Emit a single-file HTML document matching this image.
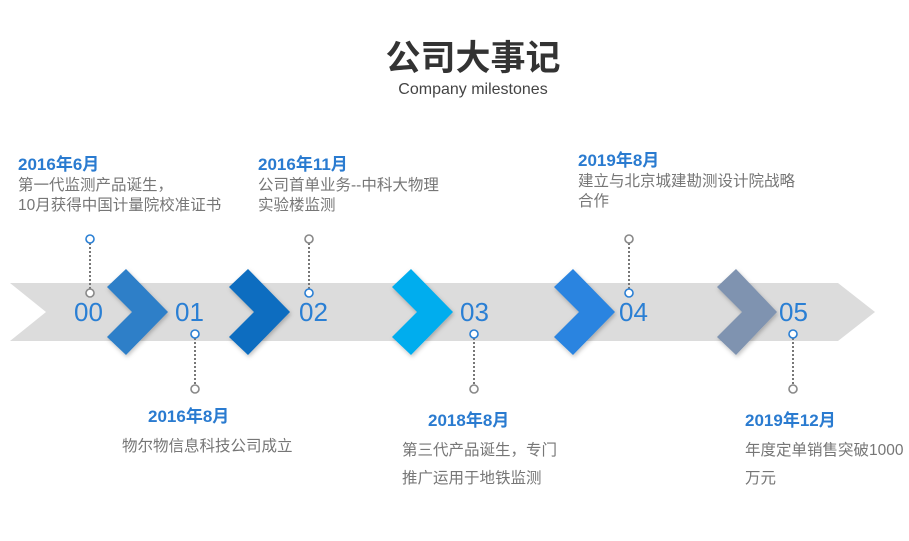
<!DOCTYPE html>
<html><head><meta charset="utf-8"><style>
body{margin:0;width:909px;height:541px;background:#fff;position:relative;overflow:hidden;font-family:"Liberation Sans","Noto Sans CJK SC",sans-serif}
.t{position:absolute;white-space:nowrap}
.h{font-weight:bold;font-size:17px;color:#2a7bd0}
.b{font-size:15.5px;color:#767676;line-height:20px}
.n{font-size:26px;color:#2a7fd4;position:absolute;line-height:26px}
</style></head><body>
<div class="t" style="left:0;width:946px;text-align:center;top:30px;font-size:35px;font-weight:bold;color:#333">公司大事记</div>
<div class="t" style="left:0;width:946px;text-align:center;top:81px;font-size:16px;color:#444">Company milestones</div>
<svg width="909" height="541" style="position:absolute;left:0;top:0">
<defs><filter id="s" x="-30%" y="-30%" width="160%" height="160%"><feDropShadow dx="1" dy="2" stdDeviation="2" flood-color="#000" flood-opacity="0.25"/></filter></defs>
<polygon points="10,283 838,283 875,312 838,341 10,341 46,312" fill="#dcdcdc"/>
<g filter="url(#s)">
<polygon points="107,287 126,269 168,312 126,355 107,337 132,312" fill="#2f7fc8"/>
<polygon points="229,287 248,269 290,312 248,355 229,337 254,312" fill="#0a6dc0"/>
<polygon points="392,287 411,269 453,312 411,355 392,337 417,312" fill="#00adee"/>
<polygon points="554,287 573,269 615,312 573,355 554,337 579,312" fill="#2a84e0"/>
<polygon points="717,287 736,269 777,312 736,355 717,337 742,312" fill="#7f93b0"/>
</g>
<g stroke="#777" stroke-width="2" stroke-dasharray="2,2">
<line x1="90" y1="243" x2="90" y2="289"/><line x1="195" y1="338" x2="195" y2="385"/>
<line x1="309" y1="243" x2="309" y2="289"/><line x1="474" y1="338" x2="474" y2="385"/>
<line x1="629" y1="243" x2="629" y2="289"/><line x1="793" y1="338" x2="793" y2="385"/>
</g>
<g fill="#fff" stroke-width="1.6">
<circle cx="90" cy="239" r="4" stroke="#2a7fd4"/><circle cx="90" cy="293" r="4" stroke="#888"/>
<circle cx="195" cy="334" r="4" stroke="#2a7fd4"/><circle cx="195" cy="389" r="4" stroke="#888"/>
<circle cx="309" cy="239" r="4" stroke="#888"/><circle cx="309" cy="293" r="4" stroke="#2a7fd4"/>
<circle cx="474" cy="334" r="4" stroke="#2a7fd4"/><circle cx="474" cy="389" r="4" stroke="#888"/>
<circle cx="629" cy="239" r="4" stroke="#888"/><circle cx="629" cy="293" r="4" stroke="#2a7fd4"/>
<circle cx="793" cy="334" r="4" stroke="#2a7fd4"/><circle cx="793" cy="389" r="4" stroke="#888"/>
</g>
</svg>
<div class="n" style="left:74px;top:299px">00</div>
<div class="n" style="left:175px;top:299px">01</div>
<div class="n" style="left:299px;top:299px">02</div>
<div class="n" style="left:460px;top:299px">03</div>
<div class="n" style="left:619px;top:299px">04</div>
<div class="n" style="left:779px;top:299px">05</div>

<div class="t h" style="left:18px;top:150px">2016年6月</div>
<div class="t b" style="left:18px;top:176px">第一代监测产品诞生，<br>10月获得中国计量院校准证书</div>
<div class="t h" style="left:258px;top:150px">2016年11月</div>
<div class="t b" style="left:258px;top:176px">公司首单业务--中科大物理<br>实验楼监测</div>
<div class="t h" style="left:578px;top:146px">2019年8月</div>
<div class="t b" style="left:578px;top:172px">建立与北京城建勘测设计院战略<br>合作</div>
<div class="t h" style="left:148px;top:402px">2016年8月</div>
<div class="t b" style="left:122px;top:437px">物尔物信息科技公司成立</div>
<div class="t h" style="left:428px;top:406px">2018年8月</div>
<div class="t b" style="left:402px;top:437px;line-height:28px">第三代产品诞生，专门<br>推广运用于地铁监测</div>
<div class="t h" style="left:745px;top:406px">2019年12月</div>
<div class="t b" style="left:745px;top:437px;line-height:28px">年度定单销售突破1000<br>万元</div>
</body></html>
